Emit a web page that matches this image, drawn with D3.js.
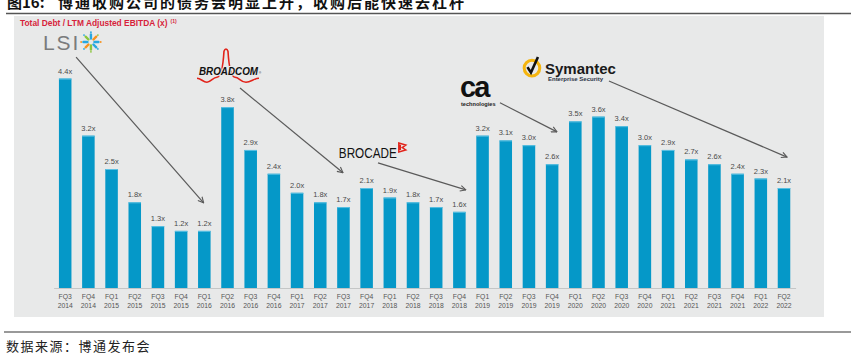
<!DOCTYPE html>
<html>
<head>
<meta charset="utf-8">
<script src="https://d3js.org/d3.v7.min.js"></script>
<style>
  body { margin: 0; background: #ffffff; }
  svg { display: block; }
  text { font-family: "Liberation Sans", Arial, sans-serif; }
  .cjk { font-family: "Noto Sans CJK SC", sans-serif; }
  .bar-label { font-size: 7.5px; fill: #4a4a4a; }
  .tick-label { font-size: 6.8px; fill: #555555; }
</style>
</head>
<body>
<div id="chart"></div>
<script>
// quarter / year of each bar
const quarters = ["FQ3","FQ4","FQ1","FQ2","FQ3","FQ4","FQ1","FQ2","FQ3","FQ4",
                  "FQ1","FQ2","FQ3","FQ4","FQ1","FQ2","FQ3","FQ4","FQ1","FQ2",
                  "FQ3","FQ4","FQ1","FQ2","FQ3","FQ4","FQ1","FQ2","FQ3","FQ4",
                  "FQ1","FQ2"];
const years = ["2014","2014","2015","2015","2015","2015","2016","2016","2016","2016",
               "2017","2017","2017","2017","2018","2018","2018","2018","2019","2019",
               "2019","2019","2020","2020","2020","2020","2021","2021","2021","2021",
               "2022","2022"];
// Total Debt / LTM Adjusted EBITDA (x)
const leverage = [4.4, 3.2, 2.5, 1.8, 1.3, 1.2, 1.2, 3.8, 2.9, 2.4,
                  2.0, 1.8, 1.7, 2.1, 1.9, 1.8, 1.7, 1.6, 3.2, 3.1,
                  3.0, 2.6, 3.5, 3.6, 3.4, 3.0, 2.9, 2.7, 2.6, 2.4,
                  2.3, 2.1];

// acquisition annotations, in (bar index, value) units
const logos = ["LSI", "Broadcom", "Brocade", "CA", "Symantec"];
const logoAt = [[-0.96, 5.0], [5.77, 4.47], [11.8, 2.73], [17.07, 4.01], [20.13, 4.62]];
const arrowFrom = [[0.47, 4.85], [7.54, 4.2], [13.49, 2.63], [18.75, 3.89], [23.45, 4.35]];
const arrowTo = [[5.97, 1.79], [11.98, 2.42], [17.28, 2.06], [21.21, 3.28], [31.13, 2.75]];

const W = 851, H = 354;
const svg = d3.select("#chart").append("svg")
  .attr("width", W).attr("height", H);

// report title + rules
svg.append("text").attr("class", "cjk")
  .attr("x", 7).attr("y", 8)
  .style("font-size", "15px").style("font-weight", 700).style("fill", "#111")
  .text("图16:");
svg.append("text").attr("class", "cjk")
  .attr("x", 58).attr("y", 8)
  .style("font-size", "15px").style("font-weight", 700).style("fill", "#111")
  .style("letter-spacing", "2px")
  .text("博通收购公司的债务会明显上升，收购后能快速去杠杆");
svg.append("line").attr("x1", 6).attr("x2", W).attr("y1", 13.5).attr("y2", 13.5)
  .attr("stroke", "#555").attr("stroke-width", 1.5);

// grey panel
svg.append("rect").attr("x", 14).attr("y", 16).attr("width", 810).attr("height", 301)
  .attr("fill", "#e8e9e9");

svg.append("text").attr("x", 20).attr("y", 26)
  .style("font-size", "8.4px").style("font-weight", 700).style("fill", "#d71f3b")
  .text("Total Debt / LTM Adjusted EBITDA (x)")
  .append("tspan").attr("dx", 3).attr("dy", -3).style("font-size", "5px").text("(1)");

// scales
const idx = d3.range(leverage.length);
const x = d3.scaleBand().domain(idx).range([53.6, 795.6]).paddingInner(0.46).paddingOuter(0.23);
const y = d3.scaleLinear().domain([0, 5]).range([288, 50]);
const step = x.step();
const xc = i => x(0) + x.bandwidth() / 2 + i * step;

// bars
svg.append("g").selectAll("rect").data(leverage).join("rect")
  .attr("x", (d, i) => x(i))
  .attr("y", d => y(d))
  .attr("width", x.bandwidth())
  .attr("height", d => y(0) - y(d))
  .attr("fill", "#0598c8");
svg.append("g").selectAll("line").data(leverage).join("line")
  .attr("x1", (d, i) => x(i)).attr("x2", (d, i) => x(i) + x.bandwidth())
  .attr("y1", d => y(d) + 0.5).attr("y2", d => y(d) + 0.5)
  .attr("stroke", "#5cc0e2").attr("stroke-width", 1);

// value labels
svg.append("g").selectAll("text").data(leverage).join("text")
  .attr("class", "bar-label")
  .attr("x", (d, i) => xc(i))
  .attr("y", d => y(d) - 5)
  .attr("text-anchor", "middle")
  .text(d => d3.format(".1f")(d) + "x");

// x axis
const xAxis = svg.append("g").attr("transform", `translate(0,${y(0)})`)
  .call(d3.axisBottom(x).tickSize(0).tickFormat(""));
xAxis.select(".domain").attr("stroke", "#c4c6c6").attr("stroke-width", 1);
const ticks = svg.append("g").selectAll("text").data(idx).join("text")
  .attr("class", "tick-label")
  .attr("text-anchor", "middle")
  .attr("x", i => xc(i));
ticks.append("tspan").attr("x", i => xc(i)).attr("y", y(0) + 11).text(i => quarters[i]);
ticks.append("tspan").attr("x", i => xc(i)).attr("y", y(0) + 19.5).text(i => years[i]);

// arrows
const defs = svg.append("defs");
defs.append("marker").attr("id", "arr")
  .attr("viewBox", "0 0 10 10").attr("refX", 9).attr("refY", 5)
  .attr("markerWidth", 7).attr("markerHeight", 7).attr("markerUnits", "userSpaceOnUse")
  .attr("orient", "auto")
  .append("path").attr("d", "M1,1 L9,5 L1,9")
  .attr("fill", "none").attr("stroke", "#5a5a5a").attr("stroke-width", 1.6);
svg.append("g").selectAll("line").data(arrowFrom).join("line")
  .attr("x1", d => xc(d[0])).attr("y1", d => y(d[1]))
  .attr("x2", (d, i) => xc(arrowTo[i][0])).attr("y2", (d, i) => y(arrowTo[i][1]))
  .attr("stroke", "#5a5a5a").attr("stroke-width", 1.2)
  .attr("marker-end", "url(#arr)");

// logos
const logo = name => {
  const k = logos.indexOf(name);
  return svg.append("g").attr("transform", `translate(${xc(logoAt[k][0])},${y(logoAt[k][1])})`);
};

// LSI
const lsi = logo("LSI");
lsi.append("text").attr("x", 0).attr("y", 0)
  .style("font-size", "21px").style("fill", "#7a7b7c").style("letter-spacing", "2px")
  .text("LSI");
const burst = lsi.append("g").attr("transform", "translate(48,-8)");
const burstCols = ["#27a8e0", "#f6921e", "#27a8e0", "#27a8e0", "#8cc63e", "#f6921e", "#27a8e0", "#8cc63e"];
burst.selectAll("line").data(d3.range(8)).join("line")
  .attr("x1", a => 3.5 * Math.cos(a * Math.PI / 4 - Math.PI / 2))
  .attr("y1", a => 3.5 * Math.sin(a * Math.PI / 4 - Math.PI / 2))
  .attr("x2", a => 7.5 * Math.cos(a * Math.PI / 4 - Math.PI / 2))
  .attr("y2", a => 7.5 * Math.sin(a * Math.PI / 4 - Math.PI / 2))
  .attr("stroke", (a, i) => burstCols[i]).attr("stroke-width", 2.4).attr("stroke-linecap", "round");
burst.selectAll("circle").data(d3.range(8)).join("circle")
  .attr("cx", a => 9.8 * Math.cos(a * Math.PI / 4 - Math.PI / 2))
  .attr("cy", a => 9.8 * Math.sin(a * Math.PI / 4 - Math.PI / 2))
  .attr("r", 0.9)
  .attr("fill", (a, i) => burstCols[(i + 3) % 8]);

// Broadcom
const bc = logo("Broadcom");
bc.append("path")
  .attr("d", "M-2,3 C2,3 4,7 8,7 C12,7 14,2 18,2 C22,2 24,-8 25,-24 C26,-27 28,-27 29,-24 C30,-8 32,2 36,2 C40,2 42,7 47,7 C52,7 55,3 60,3")
  .attr("fill", "none").attr("stroke", "#e2231a").attr("stroke-width", 1.6);
bc.append("text").attr("x", 0).attr("y", 0)
  .attr("textLength", 59).attr("lengthAdjust", "spacingAndGlyphs")
  .style("font-size", "11px").style("font-weight", 700).style("font-style", "italic")
  .style("fill", "#111").style("stroke", "#e8e9e9").style("stroke-width", 2).style("paint-order", "stroke")
  .text("BROADCOM");
bc.append("text").attr("x", 60).attr("y", -1).style("font-size", "3px").style("fill", "#111").text("®");

// Brocade
const br = logo("Brocade");
br.append("text").attr("x", 0).attr("y", 0)
  .attr("textLength", 58).attr("lengthAdjust", "spacingAndGlyphs")
  .style("font-size", "15px").style("fill", "#111")
  .text("BROCADE");
br.append("path").attr("d", "M60,-15 L67,-13 L63.5,-10.5 L67,-8 L60,-6 Z M61.5,-13 L61.5,-8")
  .attr("fill", "none").attr("stroke", "#e2231a").attr("stroke-width", 1.5).attr("stroke-linejoin", "miter");

// CA technologies
const ca = logo("CA");
ca.append("text").attr("x", -1).attr("y", 0)
  .style("font-size", "29px").style("font-weight", 700).style("fill", "#111").style("letter-spacing", "-2px")
  .text("ca");
ca.append("text").attr("x", 0).attr("y", 8.5)
  .style("font-size", "5.6px").style("font-weight", 700).style("fill", "#222")
  .text("technologies");

// Symantec
const sy = logo("Symantec");
sy.append("circle").attr("r", 7.8).attr("fill", "none").attr("stroke", "#f5b50f").attr("stroke-width", 3);
sy.append("path").attr("d", "M-4.5,-1 L-1,4.5 L6,-11")
  .attr("fill", "none").attr("stroke", "#111").attr("stroke-width", 2.6);
sy.append("text").attr("x", 13).attr("y", 6)
  .style("font-size", "15px").style("font-weight", 700).style("fill", "#1a1a1a")
  .text("Symantec");
sy.append("text").attr("x", 16).attr("y", 12.5)
  .style("font-size", "6px").style("font-weight", 700).style("fill", "#2b3346")
  .text("Enterprise Security");

// footer
svg.append("line").attr("x1", 4).attr("x2", W).attr("y1", 332).attr("y2", 332)
  .attr("stroke", "#777").attr("stroke-width", 1.5);
svg.append("text").attr("class", "cjk")
  .attr("x", 6).attr("y", 351)
  .style("font-size", "13px").style("fill", "#222").style("letter-spacing", "1.5px")
  .text("数据来源：博通发布会");
</script>
</body>
</html>
